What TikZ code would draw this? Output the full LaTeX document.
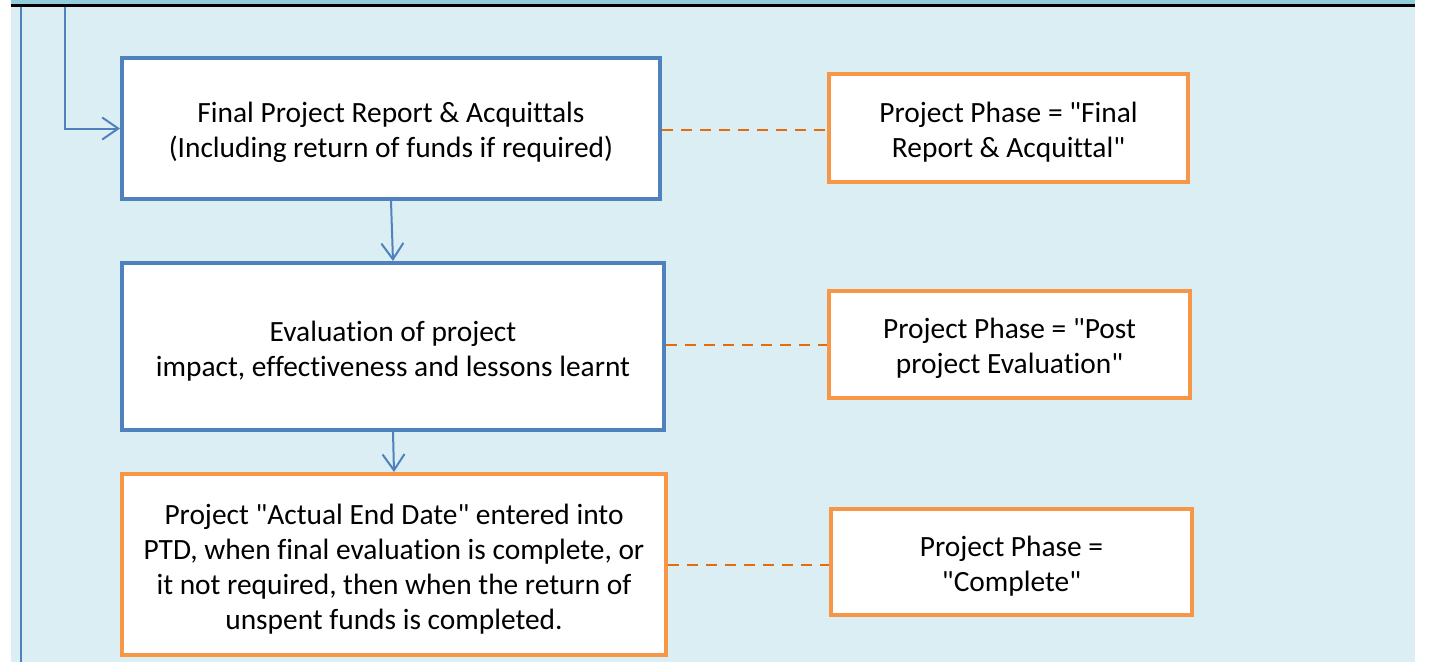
\documentclass[tikz,border=0pt]{standalone}
\usepackage{fontspec}
\setmainfont{Carlito}[Ligatures={TeXOff,CommonOff}]
\usetikzlibrary{arrows.meta}
\definecolor{bluebox}{HTML}{4F81BD}
\definecolor{orangebox}{HTML}{F79646}
\definecolor{orangedash}{HTML}{E46C0A}
\definecolor{lanefill}{HTML}{DBEEF3}
\definecolor{lanetop}{HTML}{92CDDC}
\newcommand{\firstline}{\rule{0pt}{29pt}}

\begin{document}
\begin{tikzpicture}[x=1pt,y=-1pt,
	bluestep/.style={draw=bluebox,line width=4pt,fill=white,align=center,font=\fontsize{29.4}{35}\selectfont},
	orangestep/.style={draw=orangebox,line width=4pt,fill=white,align=center,font=\fontsize{29.4}{35}\selectfont},
	phaselink/.style={orangedash,line width=2.5pt,dash pattern=on 11pt off 8pt},
	flow/.style={bluebox,line width=2pt,-{Straight Barb[length=16pt,width=22pt,line width=2pt]}}]
					\useasboundingbox (0,0) rectangle (1432,662);
					\fill[lanefill] (11,4) rectangle (1415,662);
					\fill[lanetop] (11,0) rectangle (1415,4);
					\draw[black,line width=3pt] (11,5.5) -- (1415,5.5);
					\draw[bluebox,line width=2pt] (21,7) -- (21,662);
					\node[bluestep,minimum width=538pt,minimum height=141pt] (report) at (391,128.5) {\firstline Final Project Report \& Acquittals\\(Including return of funds if required)};
					\node[bluestep,minimum width=542pt,minimum height=167pt] (evaluation) at (393,346.5) {\firstline Evaluation of project\\impact, effectiveness and lessons learnt};
					\node[orangestep,minimum width=544pt,minimum height=181pt] (enddate) at (394,564.5) {\firstline Project "Actual End Date" entered into\\PTD, when final evaluation is complete, or\\it not required, then when the return of\\unspent funds is completed.};
					\node[orangestep,minimum width=359pt,minimum height=108pt] (phasefinal) at (1008.5,128) {\firstline Project Phase = "Final\\Report \& Acquittal"};
					\node[orangestep,minimum width=361pt,minimum height=107pt] (phasepost) at (1009.5,344.5) {\firstline Project Phase = "Post\\project Evaluation"};
					\node[orangestep,minimum width=361pt,minimum height=106pt] (phasedone) at (1011.5,562) {\firstline Project Phase =\\"Complete"};
					\coordinate (entry) at (65,7);
					\draw[flow] (entry) |- (report.west);
					\draw[flow] (report.south) -- (evaluation.north);
					\draw[flow] (evaluation.south) -- (enddate.north);
					\draw[phaselink] (report.east |- 0,130) -- (phasefinal.west |- 0,130);
					\draw[phaselink] (evaluation.east |- 0,345) -- (phasepost.west |- 0,345);
					\draw[phaselink] (enddate.east |- 0,565) -- (phasedone.west |- 0,565);
				\end{tikzpicture}
\end{document}
